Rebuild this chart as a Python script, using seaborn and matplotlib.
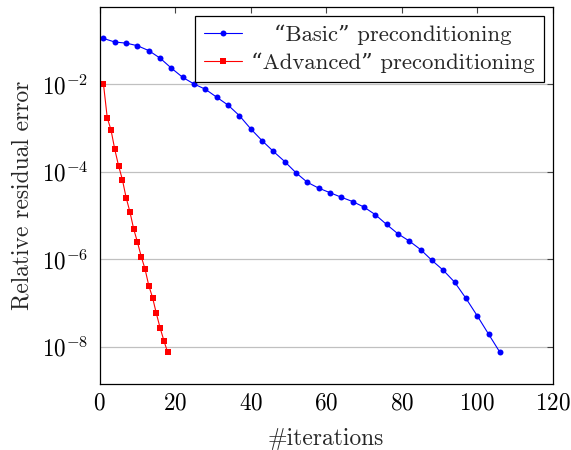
import numpy as np
import pandas as pd
import matplotlib
matplotlib.use("Agg")
import matplotlib.pyplot as plt
import seaborn as sns

# Data
basic_iters = [1, 4, 7, 10, 13, 16, 19, 22, 25, 28, 31, 34, 37, 40, 43, 46, 49, 52,
               55, 58, 61, 64, 67, 70, 73, 76, 79, 82, 85, 88, 91, 94, 97, 100, 103, 106]
basic_err = [0.110, 0.091, 0.086, 0.075, 0.058, 0.039, 0.023, 0.0142, 0.0100, 0.0076,
             0.0050, 0.0033, 0.0019, 9.5e-4, 5.1e-4, 2.9e-4, 1.7e-4, 9.4e-5,
             5.7e-5, 4.2e-5, 3.3e-5, 2.6e-5, 2.07e-5, 1.55e-5, 1.04e-5, 6.2e-6,
             3.8e-6, 2.6e-6, 1.66e-6, 9.4e-7, 5.6e-7, 3.0e-7, 1.28e-7, 5.1e-8,
             1.95e-8, 7.5e-9]

adv_iters = list(range(1, 19))
adv_err = [1.0e-2, 1.7e-3, 8.9e-4, 3.2e-4, 1.36e-4, 6.6e-5, 2.55e-5, 1.21e-5, 4.9e-6,
           2.45e-6, 1.15e-6, 6.0e-7, 2.5e-7, 1.33e-7, 5.8e-8, 2.7e-8, 1.39e-8, 7.4e-9]

# leading spaces roughly centre the shorter entry like the pgfplots legend does
basic_label = "   \u201cBasic\u201d preconditioning"
adv_label = "\u201cAdvanced\u201d preconditioning"

sns.set_style("white")
plt.rcParams['font.family'] = ['cmr10', 'DejaVu Serif']
plt.rcParams['mathtext.fontset'] = 'cm'
plt.rcParams['axes.formatter.use_mathtext'] = True

df_basic = pd.DataFrame({'iter': basic_iters, 'err': basic_err})
df_adv = pd.DataFrame({'iter': adv_iters, 'err': adv_err})

fig = plt.figure(figsize=(5.71, 4.5), dpi=100)
ax = fig.add_axes([0.1746, 0.1467, 0.7934, 0.8383])

sns.lineplot(data=df_basic, x='iter', y='err', ax=ax, color='#0000ff', marker='o',
             markersize=4.3, markeredgewidth=0, linewidth=0.8, label=basic_label)
sns.lineplot(data=df_adv, x='iter', y='err', ax=ax, color='#ff0000', marker='s',
             markersize=3.9, markeredgewidth=0, linewidth=0.8, label=adv_label)

ax.set_yscale('log')
ax.set_xlim(0, 120)
ax.set_ylim(10 ** -8.85, 10 ** -0.235)
ax.set_xticks([0, 20, 40, 60, 80, 100, 120])
ax.set_yticks([1e-8, 1e-6, 1e-4, 1e-2])
ax.yaxis.set_minor_locator(matplotlib.ticker.NullLocator())
ax.grid(axis='y', color='#c0c0c0', linewidth=0.9)
ax.tick_params(direction='in', length=4, width=0.8, top=True, right=True,
               labelsize=16.7, colors='#444444', labelcolor='black', pad=6)
ax.tick_params(axis='y', pad=8)
for s in ax.spines.values():
    s.set_color('black')
    s.set_linewidth(0.9)

ax.set_xlabel('#iterations', fontsize=16.9, labelpad=10)
ax.set_ylabel('Relative residual error', fontsize=16.9, labelpad=6)

leg = ax.legend(loc='upper right', fontsize=16.4, frameon=True, fancybox=False,
                borderaxespad=0.4, handlelength=1.7, labelspacing=0.33,
                borderpad=0.38, handletextpad=0.4)
leg.get_frame().set_edgecolor('black')
leg.get_frame().set_linewidth(0.9)
leg.get_frame().set_alpha(1)

fig.savefig('out.png', dpi=100)
